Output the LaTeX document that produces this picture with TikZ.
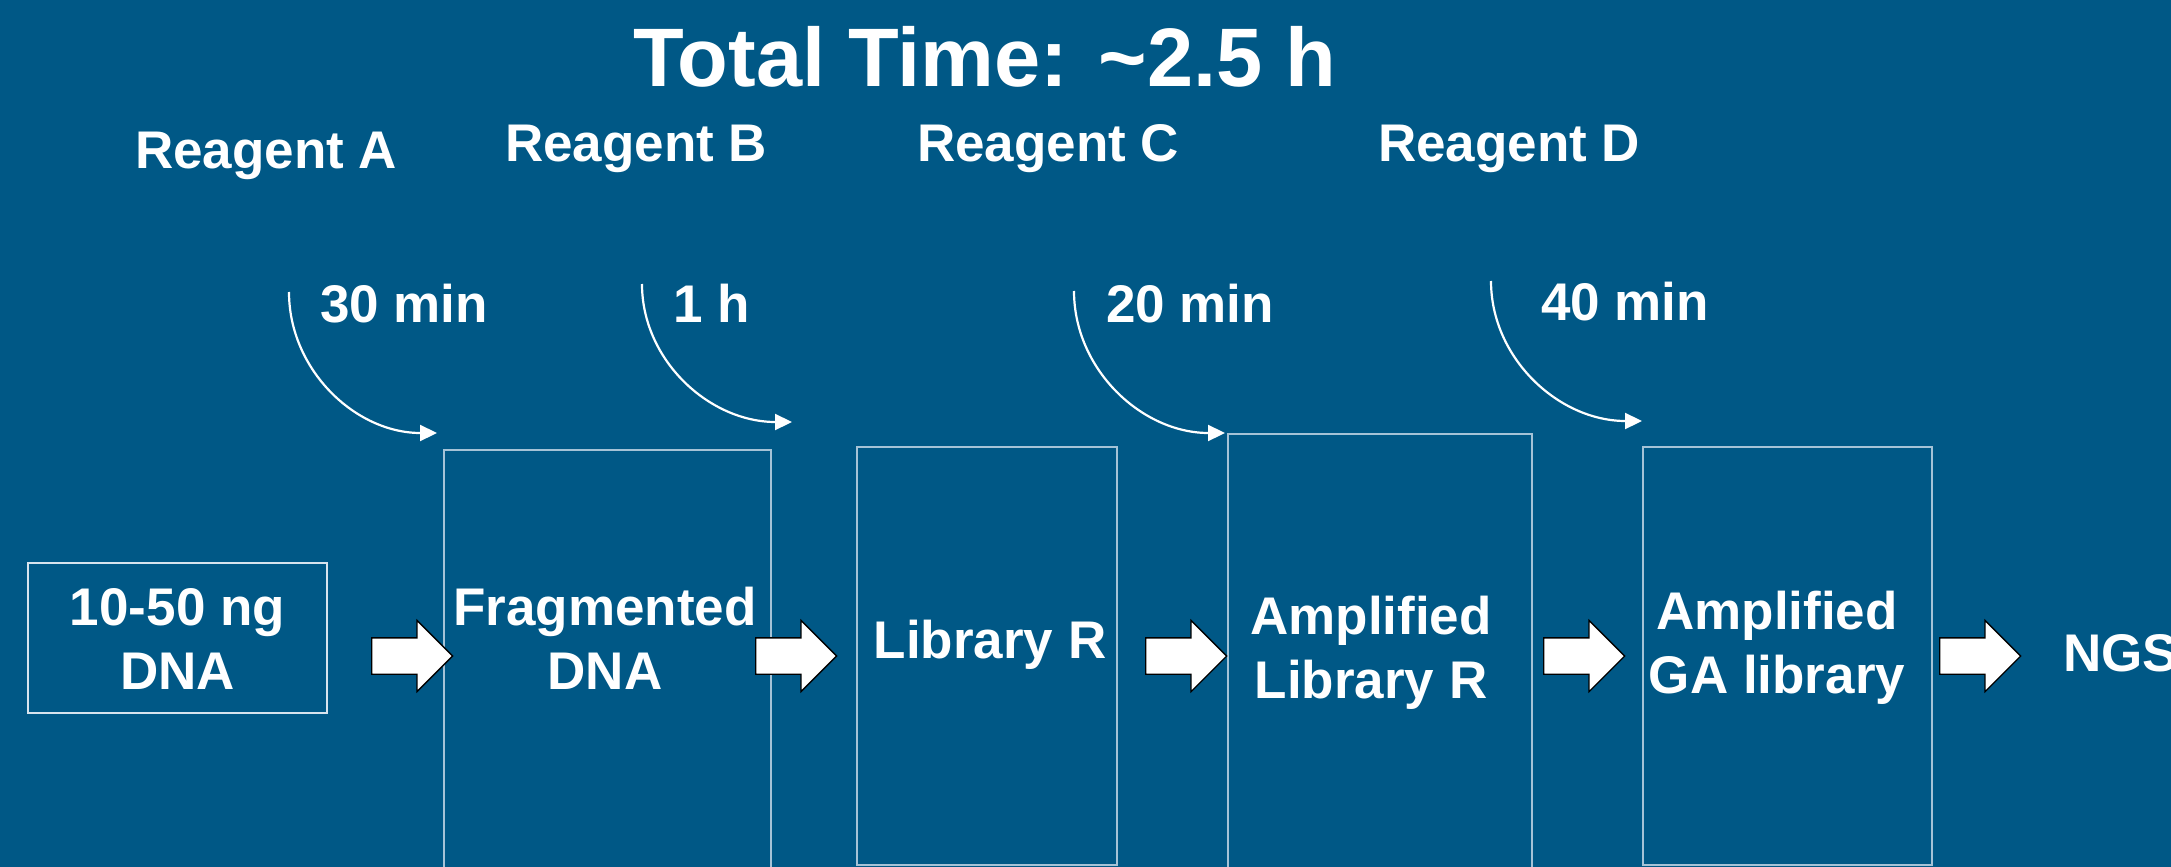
\documentclass[tikz,border=0pt]{standalone}
\usepackage{fontspec}
\setmainfont{Liberation Sans}
\usetikzlibrary{arrows.meta,shapes.arrows,calc}
\definecolor{bg}{RGB}{0,88,134}
\definecolor{edgecol}{RGB}{165,195,215}
\definecolor{edgecolw}{RGB}{215,228,238}
\begin{document}
\begin{tikzpicture}[x=1pt,y=-1pt,
  lbl/.style={text=white,font=\bfseries\fontsize{53}{64}\selectfont,inner sep=0pt,anchor=base west},
  boxtxt/.style={text=white,font=\bfseries\fontsize{53}{64}\selectfont,inner sep=0pt,anchor=base,align=center},
  stepbox/.style={draw=edgecol,line width=1.8pt,inner sep=0pt,rectangle},
  blockarrow/.style={single arrow,draw=black,fill=white,line width=1.3pt,
    inner xsep=0pt,inner ysep=17.5pt,single arrow head extend=17.5pt,
    single arrow tip angle=90,minimum height=81pt,anchor=tail},
  curvearrow/.style={draw=white,line width=2.2pt,-{Triangle[length=17pt,width=16pt]}}
]
\useasboundingbox (0,0) rectangle (2171,867);
\fill[bg] (0,0) rectangle (2171,867);
\clip (0,0) rectangle (2171,867);

% title
\node[lbl,font=\bfseries\fontsize{83}{90}\selectfont] (title) at (633,87) {Total Time: \textasciitilde2.5 h};

% reagents
\node[lbl] (ra) at (135,168) {Reagent A};
\node[lbl] (rb) at (505,161) {Reagent B};
\node[lbl] (rc) at (917,161) {Reagent C};
\node[lbl] (rd) at (1378,161) {Reagent D};

% times
\node[lbl] (t1) at (320,322) {30 min};
\node[lbl] (t2) at (673,322) {1 h};
\node[lbl] (t3) at (1106,322) {20 min};
\node[lbl] (t4) at (1541,320) {40 min};

% boxes
\node[stepbox,draw=edgecolw,minimum width=299pt,minimum height=150pt] (b0) at (177.5,638) {};
\node[stepbox,minimum width=327pt,minimum height=440pt] (b1) at (607.5,670) {};
\node[stepbox,minimum width=260pt,minimum height=418pt] (b2) at (987,656) {};
\node[stepbox,minimum width=304pt,minimum height=446pt] (b3) at (1380,657) {};
\node[stepbox,minimum width=289pt,minimum height=418pt] (b4) at (1787.5,656) {};

% box texts (anchor = baseline of last line)
\node[boxtxt] (x0) at (177.5,689) {10-50 ng\\DNA};
\node[boxtxt] (x1) at (605,689) {Fragmented\\DNA};
\node[boxtxt] (x2) at (990,658) {Library R};
\node[boxtxt] (x3) at (1371,698) {Amplified\\Library R};
\node[boxtxt] (x4) at (1777,693) {Amplified\\GA library};
\node[lbl] (ngs) at (2063,671) {NGS};

% block arrows
\node[blockarrow] (a1) at (371,656) {};
\node[blockarrow] (a2) at (755,656) {};
\node[blockarrow] (a3) at (1145,656) {};
\node[blockarrow] (a4) at (1543,656) {};
\node[blockarrow] (a5) at (1939,656) {};

% curved arrows
\coordinate (s1) at (289,292);  \coordinate (e1) at (437,433);
\coordinate (s2) at (642,284);  \coordinate (e2) at (792,422);
\coordinate (s3) at (1074,291); \coordinate (e3) at (1225,433);
\coordinate (s4) at (1491,281); \coordinate (e4) at (1642,421);
\foreach \i in {1,2,3,4}{
  \draw[curvearrow] (s\i) .. controls ($(s\i)!0.552!(s\i|-e\i)$) and ($(e\i)!0.552!(s\i|-e\i)$) .. (e\i);
}
\end{tikzpicture}
\end{document}
